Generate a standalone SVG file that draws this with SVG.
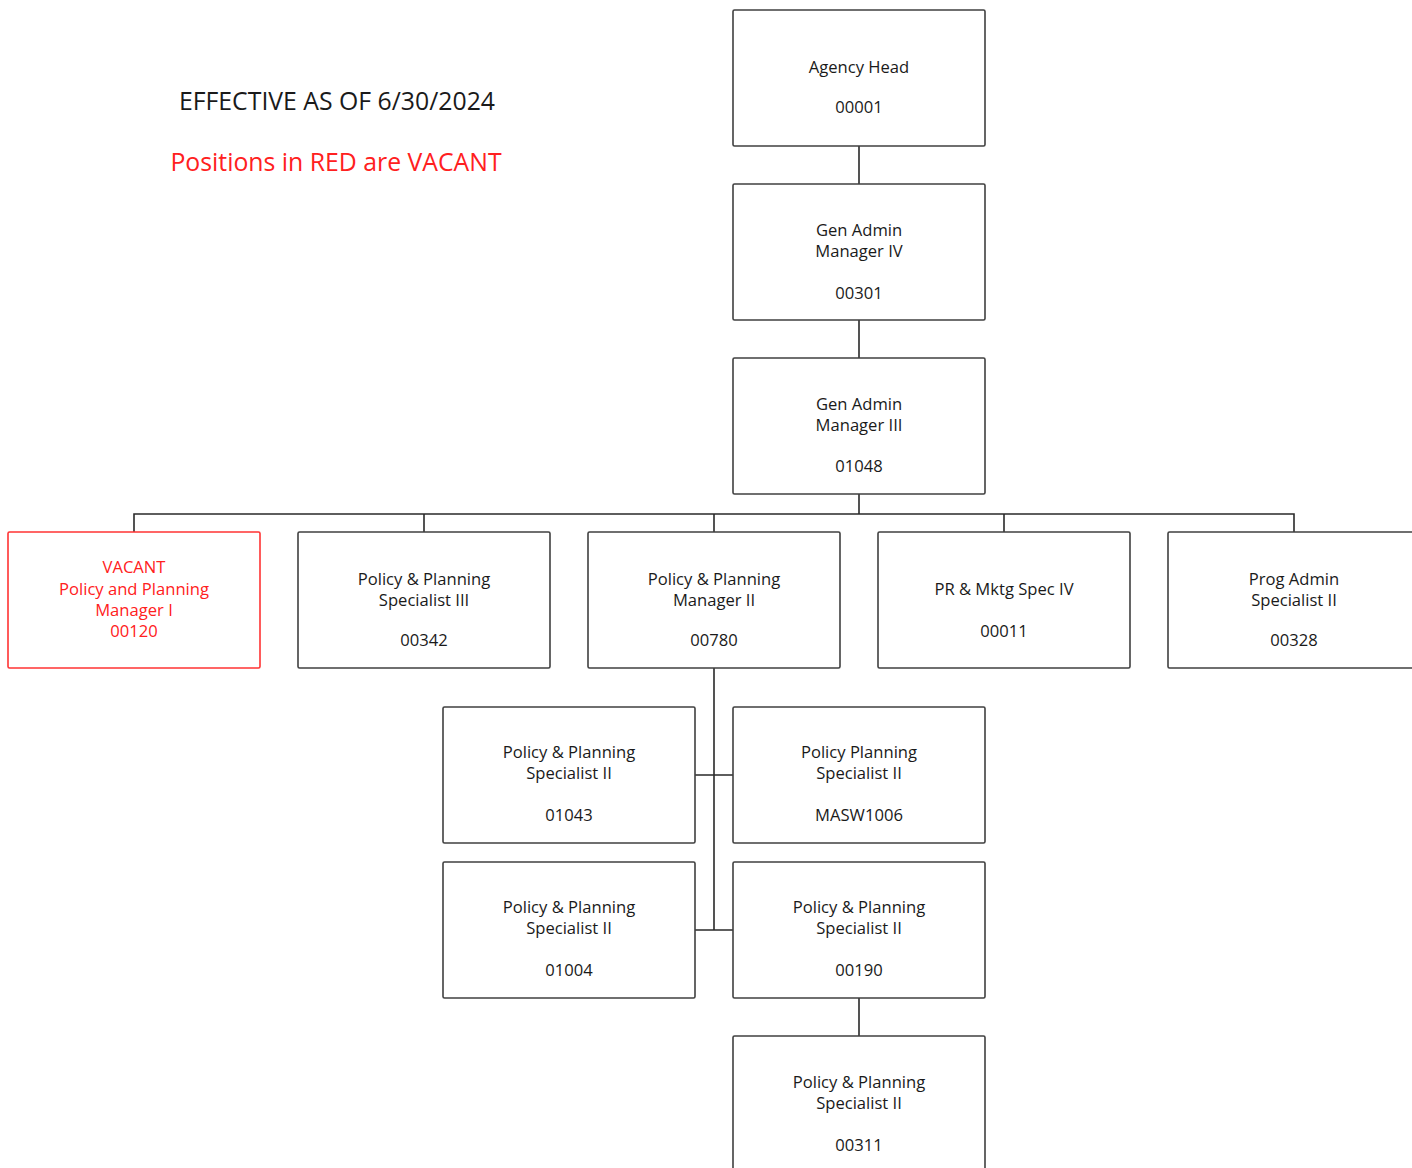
<svg xmlns="http://www.w3.org/2000/svg" width="1412" height="1168" viewBox="0 0 1412 1168">
  <style>
    .box { fill: #ffffff; stroke: #404040; stroke-width: 1.6; }
    .vac { fill: #ffffff; stroke: #ff3333; stroke-width: 1.6; }
    .t { font-family: "Open Sans", "Noto Sans", "Liberation Sans", sans-serif; font-size: 16.6px; fill: #1a1a1a; text-anchor: middle; }
    .tr { fill: #ff2020; }
    .wire { stroke: #2a2a2a; stroke-width: 1.6; fill: none; }
    .hdr { font-family: "Open Sans", "Noto Sans", "Liberation Sans", sans-serif; font-size: 24.8px; text-anchor: middle; }
  </style>
  <rect width="1412" height="1168" fill="#ffffff"/>

  <text class="hdr" x="337" y="110" fill="#1a1a1a">EFFECTIVE AS OF 6/30/2024</text>
  <text class="hdr" x="336" y="171" fill="#ff2020">Positions in RED are VACANT</text>

  <g id="connectors">
    <path class="wire" d="M859 146 V184 M859 320 V358 M859 494 V514"/>
    <path class="wire" d="M134 532 V514 H1294 V532 M424 514 V532 M714 514 V532 M1004 514 V532"/>
    <path class="wire" d="M714 668 V930 M695 775 H733 M695 930 H733 M859 998 V1036"/>
  </g>

  <g id="agency-head">
    <rect class="box" x="733" y="10" width="252" height="136" rx="1.5"/>
    <text class="t" x="859" y="73">Agency Head</text>
    <text class="t" x="859" y="113">00001</text>
  </g>
  <g id="gen-admin-iv">
    <rect class="box" x="733" y="184" width="252" height="136" rx="1.5"/>
    <text class="t" x="859" y="236">Gen Admin</text>
    <text class="t" x="859" y="257">Manager IV</text>
    <text class="t" x="859" y="299">00301</text>
  </g>
  <g id="gen-admin-iii">
    <rect class="box" x="733" y="358" width="252" height="136" rx="1.5"/>
    <text class="t" x="859" y="410">Gen Admin</text>
    <text class="t" x="859" y="431">Manager III</text>
    <text class="t" x="859" y="472">01048</text>
  </g>

  <g id="vacant-00120">
    <rect class="vac" x="8" y="532" width="252" height="136" rx="1.5"/>
    <text class="t tr" x="134" y="573">VACANT</text>
    <text class="t tr" x="134" y="595">Policy and Planning</text>
    <text class="t tr" x="134" y="616">Manager I</text>
    <text class="t tr" x="134" y="637">00120</text>
  </g>
  <g id="pps-iii-00342">
    <rect class="box" x="298" y="532" width="252" height="136" rx="1.5"/>
    <text class="t" x="424" y="585">Policy &amp; Planning</text>
    <text class="t" x="424" y="606">Specialist III</text>
    <text class="t" x="424" y="646">00342</text>
  </g>
  <g id="ppm-ii-00780">
    <rect class="box" x="588" y="532" width="252" height="136" rx="1.5"/>
    <text class="t" x="714" y="585">Policy &amp; Planning</text>
    <text class="t" x="714" y="606">Manager II</text>
    <text class="t" x="714" y="646">00780</text>
  </g>
  <g id="pr-mktg-00011">
    <rect class="box" x="878" y="532" width="252" height="136" rx="1.5"/>
    <text class="t" x="1004" y="595">PR &amp; Mktg Spec IV</text>
    <text class="t" x="1004" y="637">00011</text>
  </g>
  <g id="prog-admin-00328">
    <rect class="box" x="1168" y="532" width="252" height="136" rx="1.5"/>
    <text class="t" x="1294" y="585">Prog Admin</text>
    <text class="t" x="1294" y="606">Specialist II</text>
    <text class="t" x="1294" y="646">00328</text>
  </g>

  <g id="pps-ii-01043">
    <rect class="box" x="443" y="707" width="252" height="136" rx="1.5"/>
    <text class="t" x="569" y="758">Policy &amp; Planning</text>
    <text class="t" x="569" y="779">Specialist II</text>
    <text class="t" x="569" y="821">01043</text>
  </g>
  <g id="pps-ii-masw1006">
    <rect class="box" x="733" y="707" width="252" height="136" rx="1.5"/>
    <text class="t" x="859" y="758">Policy Planning</text>
    <text class="t" x="859" y="779">Specialist II</text>
    <text class="t" x="859" y="821">MASW1006</text>
  </g>
  <g id="pps-ii-01004">
    <rect class="box" x="443" y="862" width="252" height="136" rx="1.5"/>
    <text class="t" x="569" y="913">Policy &amp; Planning</text>
    <text class="t" x="569" y="934">Specialist II</text>
    <text class="t" x="569" y="976">01004</text>
  </g>
  <g id="pps-ii-00190">
    <rect class="box" x="733" y="862" width="252" height="136" rx="1.5"/>
    <text class="t" x="859" y="913">Policy &amp; Planning</text>
    <text class="t" x="859" y="934">Specialist II</text>
    <text class="t" x="859" y="976">00190</text>
  </g>
  <g id="pps-ii-00311">
    <rect class="box" x="733" y="1036" width="252" height="136" rx="1.5"/>
    <text class="t" x="859" y="1088">Policy &amp; Planning</text>
    <text class="t" x="859" y="1109">Specialist II</text>
    <text class="t" x="859" y="1151">00311</text>
  </g>
</svg>
